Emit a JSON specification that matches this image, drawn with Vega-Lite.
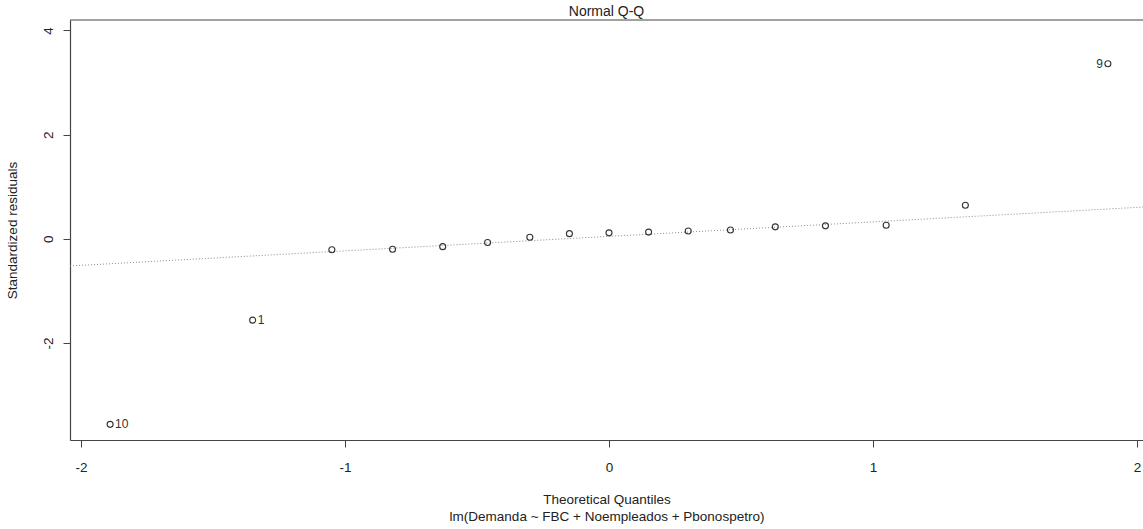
{
  "$schema": "https://vega.github.io/schema/vega-lite/v6.json",
  "autosize": {"type": "none"},
  "padding": {"left": 70, "top": 20, "right": 0, "bottom": 89},
  "width": 1073,
  "height": 420,
  "background": "white",
  "config": {
    "view": {"stroke": null},
    "font": "Liberation Sans",
    "axis": {"grid": false, "domainColor": "#444444", "tickColor": "#444444", "labelColor": "#222222", "titleColor": "#222222", "labelFont": "Liberation Sans", "titleFont": "Liberation Sans", "labelFontSize": 13.5, "titleFontSize": 13.5, "titleFontWeight": "normal", "tickSize": 7, "domainWidth": 1.2, "tickWidth": 1}
  },
  "title": {"text": "Normal Q-Q", "fontSize": 14, "fontWeight": "normal", "font": "Liberation Sans", "color": "#222222", "anchor": "middle", "offset": 0},
  "datasets": {
    "pts": [
      {"q": -1.89, "r": -3.56, "label": "10"},
      {"q": -1.35, "r": -1.56, "label": "1"},
      {"q": -1.05, "r": -0.21, "label": ""},
      {"q": -0.82, "r": -0.20, "label": ""},
      {"q": -0.63, "r": -0.15, "label": ""},
      {"q": -0.46, "r": -0.07, "label": ""},
      {"q": -0.30, "r": 0.03, "label": ""},
      {"q": -0.15, "r": 0.10, "label": ""},
      {"q": 0.0, "r": 0.115, "label": ""},
      {"q": 0.15, "r": 0.13, "label": ""},
      {"q": 0.30, "r": 0.15, "label": ""},
      {"q": 0.46, "r": 0.17, "label": ""},
      {"q": 0.63, "r": 0.23, "label": ""},
      {"q": 0.82, "r": 0.25, "label": ""},
      {"q": 1.05, "r": 0.262, "label": ""},
      {"q": 1.35, "r": 0.645, "label": ""},
      {"q": 1.89, "r": 3.36, "label": "9"}
    ],
    "qqline": [
      {"q": -2.042, "r": -0.52},
      {"q": 2.023, "r": 0.61}
    ]
  },
  "layer": [
    {
      "data": {"name": "qqline"},
      "mark": {"type": "line", "color": "#8a8a8a", "strokeWidth": 1, "strokeDash": [1, 2]},
      "encoding": {
        "x": {"field": "q", "type": "quantitative", "scale": {"domain": [-2.042, 2.023], "nice": false, "zero": false},
          "axis": {"values": [-2, -1, 0, 1, 2], "labelExpr": "'' + datum.value", "labelPadding": 13, "title": ["Theoretical Quantiles", "lm(Demanda ~ FBC + Noempleados + Pbonospetro)"], "titleLineHeight": 17, "titlePadding": 19}},
        "y": {"field": "r", "type": "quantitative", "scale": {"domain": [-3.86, 4.2], "nice": false, "zero": false},
          "axis": {"values": [-2, 0, 2, 4], "labelExpr": "'' + datum.value", "labelAngle": -90, "labelPadding": 8, "title": "Standardized residuals", "titlePadding": 22}}
      }
    },
    {
      "data": {"name": "pts"},
      "mark": {"type": "point", "shape": "circle", "filled": false, "size": 36, "stroke": "#333333", "strokeWidth": 1.1, "opacity": 1},
      "encoding": {
        "x": {"field": "q", "type": "quantitative"},
        "y": {"field": "r", "type": "quantitative"}
      }
    },
    {
      "data": {"name": "pts"},
      "transform": [{"filter": "datum.label == '10' || datum.label == '1'"}],
      "mark": {"type": "text", "align": "left", "baseline": "middle", "dx": 5, "fontSize": 12, "fill": "#333333", "font": "Liberation Sans"},
      "encoding": {
        "x": {"field": "q", "type": "quantitative"},
        "y": {"field": "r", "type": "quantitative"},
        "text": {"field": "label"}
      }
    },
    {
      "data": {"name": "pts"},
      "transform": [{"filter": "datum.label == '9'"}],
      "mark": {"type": "text", "align": "right", "baseline": "middle", "dx": -5, "fontSize": 12, "fill": "#333333", "font": "Liberation Sans"},
      "encoding": {
        "x": {"field": "q", "type": "quantitative"},
        "y": {"field": "r", "type": "quantitative"},
        "text": {"field": "label"}
      }
    },
    {
      "data": {"values": [{"top": 4.2}]},
      "mark": {"type": "rule", "color": "#444444", "strokeWidth": 1.2},
      "encoding": {
        "y": {"field": "top", "type": "quantitative"}
      }
    }
  ]
}
